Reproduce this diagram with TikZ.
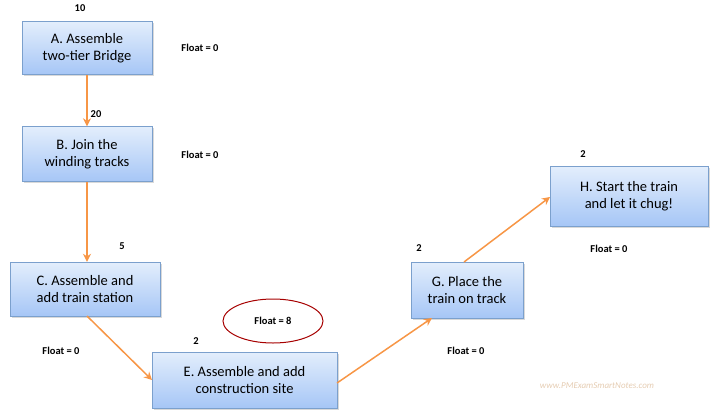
\documentclass[tikz,border=0pt]{standalone}
\usepackage{fontspec}
\setmainfont{Carlito}
\usetikzlibrary{arrows.meta,shadows,shapes.geometric}
\definecolor{bordc}{HTML}{7BA0CD}
\definecolor{topc}{HTML}{E3EEFC}
\definecolor{botc}{HTML}{A6C6F6}
\definecolor{arr}{HTML}{F79646}
\begin{document}
\begin{tikzpicture}[x=1pt,y=-1pt,
 task/.style={draw=bordc,top color=topc,bottom color=botc,align=center,font=\fontsize{14.5}{17.5}\selectfont,inner sep=0pt,drop shadow={shadow xshift=1.5pt,shadow yshift=-1.5pt,opacity=0.3}},
 lab/.style={font=\bfseries\fontsize{10.5}{12}\selectfont},
 conn/.style={draw=arr,line width=1.5pt,-{Stealth[length=8pt,width=8pt]}}]
\useasboundingbox (0,0) rectangle (715,416);
\node[task,minimum width=130,minimum height=53] (A) at (87,48) {A. Assemble\\two-tier Bridge};
\node[task,minimum width=130,minimum height=55] (B) at (87,154) {B. Join the\\winding tracks};
\node[task,minimum width=150,minimum height=54] (C) at (85,289) {C. Assemble and\\add train station};
\node[task,minimum width=185,minimum height=56] (E) at (244.5,380) {E. Assemble and add\\construction site};
\node[task,minimum width=112,minimum height=56] (G) at (467,290) {G. Place the\\train on track};
\node[task,minimum width=158,minimum height=60] (H) at (629,196) {H. Start the train\\and let it chug!};
\node[lab] (a1) at (80,8) {10};
\node[lab] (a2) at (200,48) {Float = 0};
\node[lab] (b1) at (96,114) {20};
\node[lab] (b2) at (200,155) {Float = 0};
\node[lab] (c1) at (122,246) {5};
\node[lab] (c2) at (61,351) {Float = 0};
\node[lab] (e1) at (196,341) {2};
\node[lab,draw=red!65!black,line width=1pt,ellipse,minimum width=100,minimum height=44,inner sep=0pt] (e2) at (273,321) {Float = 8};
\node[lab] (g1) at (419,248) {2};
\node[lab] (g2) at (466,351) {Float = 0};
\node[lab] (h1) at (583,154) {2};
\node[lab] (h2) at (609,249) {Float = 0};
\node[font=\fontsize{9}{10}\selectfont\itshape,text=brown!40] (w) at (597,386) {www.PMExamSmartNotes.com};
\coordinate (cb) at (87,316);
\coordinate (el) at (152,380);
\coordinate (er) at (337,383);
\coordinate (gb) at (432,318);
\coordinate (gt) at (464,262);
\coordinate (hl) at (550,197);
\draw[conn] (A.south) -- (B.north);
\draw[conn] (B.south) -- (C.north -| B.south);
\draw[conn] (cb) -- (el);
\draw[conn] (er) -- (gb);
\draw[conn] (gt) -- (hl);
\end{tikzpicture}
\end{document}
